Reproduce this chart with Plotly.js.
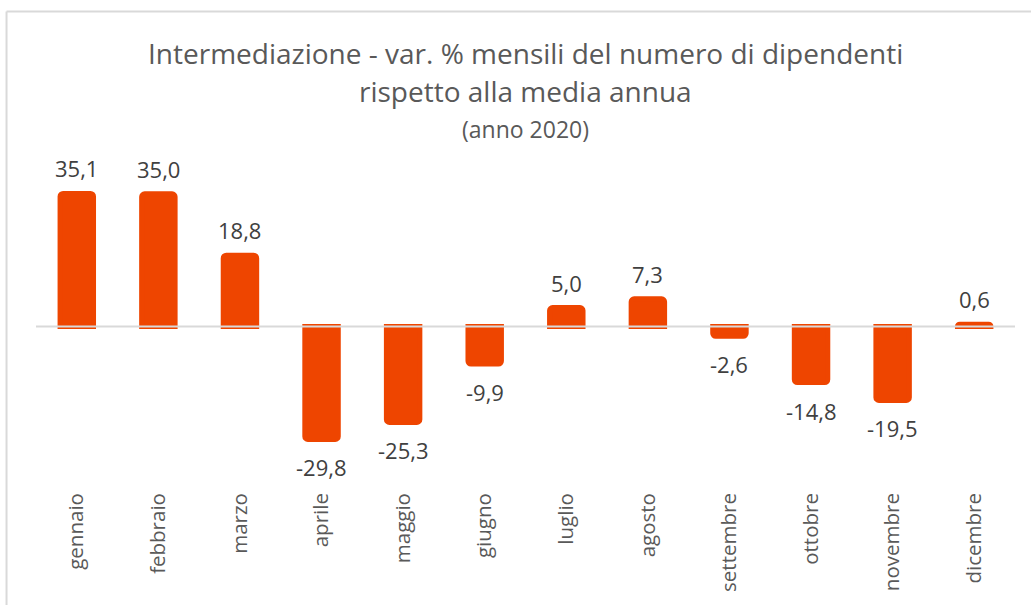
<!DOCTYPE html>
<html>
<head>
<meta charset="utf-8">
<script src="https://cdn.plot.ly/plotly-3.0.1.min.js"></script>
<style>
html,body{margin:0;padding:0;background:#fff;}
#chart{width:1031px;height:605px;}
</style>
</head>
<body>
<div id="chart"></div>
<script>
var months = ["gennaio","febbraio","marzo","aprile","maggio","giugno","luglio","agosto","settembre","ottobre","novembre","dicembre"];
var values = [35.1, 35.0, 18.8, -29.8, -25.3, -9.9, 5.0, 7.3, -2.6, -14.8, -19.5, 0.6];
var labels = ["35,1","35,0","18,8","-29,8","-25,3","-9,9","5,0","7,3","-2,6","-14,8","-19,5","0,6"];
var titleLines = ["Intermediazione - var. % mensili del numero di dipendenti", "rispetto alla media annua"];
var subtitleText = "(anno 2020)";

var barColor = "#EE4500";
var font = "'Open Sans', sans-serif";

var annotations = months.map(function(m, i){
  var pos = values[i] >= 0;
  return {
    x: m, y: values[i], xref: 'x', yref: 'y',
    text: labels[i], showarrow: false,
    yanchor: 'middle', xanchor: 'center',
    yshift: pos ? 25 : -28,
    font: {family: font, size: 22, color: '#404040'}
  };
});
var titleY = [1.417, 1.2918];
titleLines.forEach(function(t, i){
  annotations.push({
    text: t, showarrow: false,
    xref: 'paper', yref: 'paper', x: 0.4995, y: titleY[i],
    xanchor: 'center', yanchor: 'middle',
    font: {family: font, size: 28, color: '#595959'}
  });
});
annotations.push({
  text: subtitleText, showarrow: false,
  xref: 'paper', yref: 'paper', x: 0.4995, y: 1.168,
  xanchor: 'center', yanchor: 'middle',
  font: {family: font, size: 23, color: '#595959'}
});

var trace = {
  type: 'bar',
  x: months,
  y: values,
  marker: {color: barColor, line: {color: barColor, width: 5}, cornerradius: 3},
  hoverinfo: 'x+y'
};

var layout = {
  width: 1031, height: 605,
  margin: {l: 36, r: 16, t: 180, b: 120, pad: 0},
  paper_bgcolor: '#ffffff', plot_bgcolor: '#ffffff',
  showlegend: false,
  bargap: 0.59,
  xaxis: {
    type: 'category',
    tickangle: -90,
    tickfont: {family: font, size: 20.5, color: '#595959'},
    ticklabelstandoff: 3,
    showline: false, showgrid: false, zeroline: false, ticks: '',
    automargin: false
  },
  yaxis: {
    range: [-41.82, 38.65],
    showticklabels: false, showgrid: false, zeroline: false, showline: false, ticks: ''
  },
  shapes: [
    {type: 'line', xref: 'paper', yref: 'y', x0: 0, x1: 1, y0: 0, y1: 0,
     line: {color: '#D9D9D9', width: 2}, layer: 'above'},
    {type: 'line', xref: 'paper', yref: 'paper', x0: -0.0301, x1: 1.05, y0: 1.5525, y1: 1.5525,
     line: {color: '#D9D9D9', width: 2}, layer: 'below'},
    {type: 'line', xref: 'paper', yref: 'paper', x0: -0.0301, x1: -0.0301, y0: -0.5, y1: 1.5525,
     line: {color: '#D9D9D9', width: 2}, layer: 'below'}
  ],
  annotations: annotations
};

Plotly.newPlot('chart', [trace], layout, {displayModeBar: false, staticPlot: true});
</script>
</body>
</html>
